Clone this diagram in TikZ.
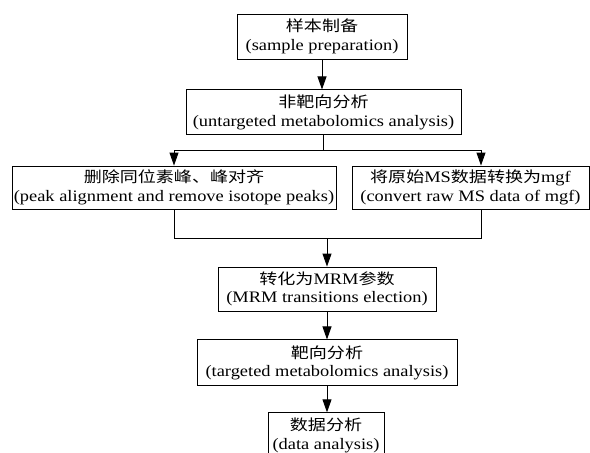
\documentclass[tikz,border=0pt]{standalone}
\usepackage{fontspec}
\setmainfont{Liberation Serif}[FakeStretch=1.15]
\newfontfamily\cjk{Noto Sans CJK SC}[FakeStretch=1.2, Scale=0.94]
\usepackage{tikz}
\usetikzlibrary{arrows.meta,positioning}

\begin{document}
\begin{tikzpicture}[
  x=1pt, y=-1pt,
  blk/.style={draw, line width=0.9pt, fill=white, inner sep=0pt, minimum height=45pt, align=center, font=\fontsize{16}{18.5}\selectfont},
  ar/.style={-{Triangle[length=13pt,width=9pt]}, line width=0.9pt},
  ln/.style={line width=0.9pt},
]
\path[use as bounding box, fill=white] (0,0) rectangle (590,453);
\node[blk, minimum width=170pt] (prep) at (322,36.5) {{\cjk 样本制备}\\(sample preparation)};
\node[blk, minimum width=275pt, below=30pt of prep, xshift=1.5pt] (untar) {{\cjk 非靶向分析}\\(untargeted metabolomics analysis)};
\node[blk, minimum width=324pt, minimum height=43pt] (peak) at (174,187.5) {{\cjk 删除同位素峰、峰对齐}\\(peak alignment and remove isotope peaks)};
\node[blk, minimum width=237pt, minimum height=43pt] (conv) at (470.5,187.5) {{\cjk 将原始}MS{\cjk 数据转换为}mgf\\(convert raw MS data of mgf)};
\node[blk, minimum width=218pt, minimum height=44pt] (mrm) at (327,289) {{\cjk 转化为}MRM{\cjk 参数}\\(MRM transitions election)};
\node[blk, minimum width=260pt, minimum height=46pt, below=28pt of mrm] (targ) {{\cjk 靶向分析}\\(targeted metabolomics analysis)};
\node[blk, minimum width=116pt, below=26pt of targ, xshift=-1pt] (data) {{\cjk 数据分析}\\(data analysis)};
% split and merge
\draw[ar] (prep.south) -- (prep.south |- untar.north);
\draw[ln] (untar.south) -- ++(0,15) coordinate (split);
\draw[ar] (split) -| (peak.north);
\draw[ar] (split) -| ([xshift=10.5pt]conv.north);
\coordinate (merge) at (327,238);
\draw[ln] (peak.south) |- (merge);
\draw[ln] ([xshift=10.5pt]conv.south) |- (merge);
\draw[ar] (merge) -- (mrm.north);
\draw[ar] (mrm.south) -- (mrm.south |- targ.north);
\draw[ar] (targ.south) -- (targ.south |- data.north);
\end{tikzpicture}
\end{document}
